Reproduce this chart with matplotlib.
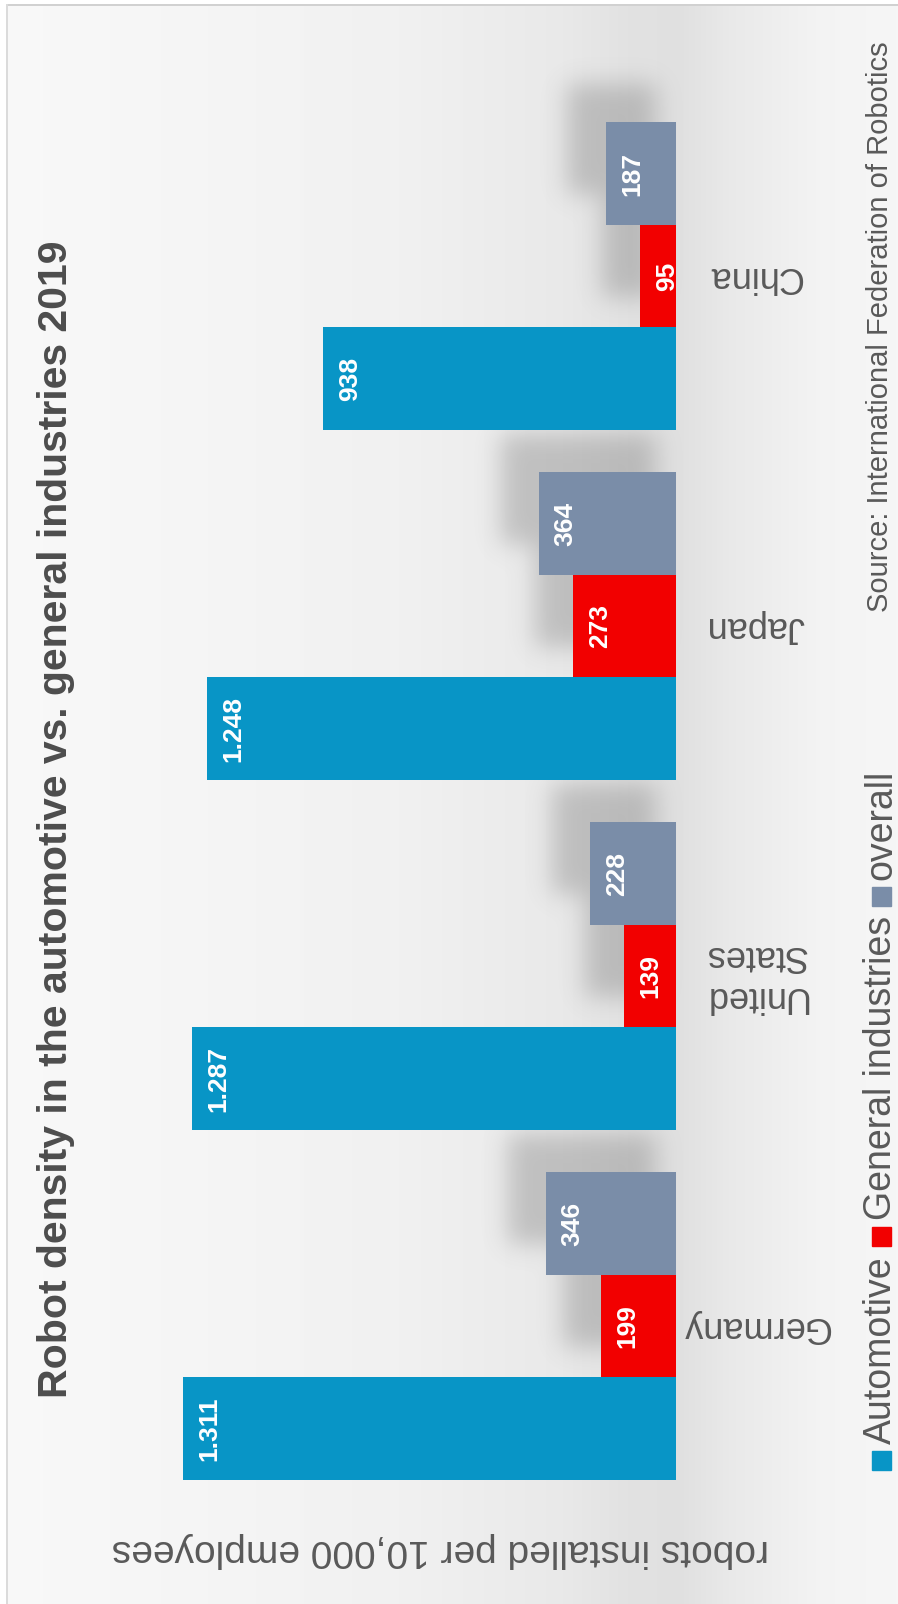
import numpy as np
import matplotlib.pyplot as plt
from matplotlib.patches import Rectangle

plt.rcParams['font.family'] = ['Liberation Sans', 'DejaVu Sans']

countries = ['Germany', 'United\nStates', 'Japan', 'China']
automotive = [1311, 1287, 1248, 938]
general = [199, 139, 273, 95]
overall = [346, 228, 364, 187]
series_names = ['Automotive', 'General industries', 'overall']
colors = ['#0895c6', '#f20000', '#7a8da8']

title = 'Robot density in the automotive vs. general industries 2019'
ylabel = 'robots installed per 10,000 employees'
source = 'Source: International Federation of Robotics'

W, H = 898, 1604
fig = plt.figure(figsize=(W / 100, H / 100), dpi=100)

# background with darker band behind the baseline
bg = fig.add_axes([0, 0, 1, 1], zorder=0)
bg.axis('off')
xs = np.arange(W)
shade = np.interp(xs, [0, 120, 400, 560, 630, 680, 730, 820, 898],
                  [0.975, 0.968, 0.945, 0.915, 0.885, 0.88, 0.915, 0.955, 0.965])
img = np.tile(shade, (H, 1))
img[:4, :] = 1.0
img[:, :6] = 1.0
img[4:6, 6:] = 0.82
img[4:, 6:8] = 0.86
bg.imshow(np.dstack([img] * 3), extent=[0, W, H, 0], aspect='auto', zorder=0)
bg.set_xlim(0, W)
bg.set_ylim(H, 0)

ax = fig.add_axes([0, 0, 1, 1], zorder=1)
ax.patch.set_alpha(0)
ax.set_xlim(1798, -590)
ax.set_ylim(-0.794, 3.789)
ax.axis('off')

y = np.arange(len(countries))
h = 0.293
series = [(automotive, colors[0], -h), (general, colors[1], 0.0), (overall, colors[2], h)]

# soft shadows cast by the short bars (up and to the left)
mask = np.zeros((H, W))
for vals, col, off in series[1:]:
    for v, c in zip(vals, y):
        (x0, y0), (x1, y1) = ax.transData.transform([(v, c + off - h / 2), (0, c + off + h / 2)])
        r0, r1 = int(H - y1 - 38), int(H - y0 - 30)
        c0, c1 = int(x0 - 38), int(x1 - 20)
        mask[max(r0, 0):r1, max(c0, 0):c1] = 1
k = np.exp(-0.5 * (np.arange(-40, 41) / 12.0) ** 2)
k /= k.sum()
mask = np.apply_along_axis(lambda r: np.convolve(r, k, mode='same'), 1, mask)
mask = np.apply_along_axis(lambda r: np.convolve(r, k, mode='same'), 0, mask)
shadow = np.zeros((H, W, 4))
shadow[..., :3] = 0.4
shadow[..., 3] = mask * 0.32
bg.imshow(shadow, extent=[0, W, H, 0], aspect='auto', zorder=1)

for vals, col, off in series:
    ax.barh(y + off, vals, height=h, color=col, linewidth=0)
    for v, c in zip(vals, y):
        ax.annotate(f'{v:,}'.replace(',', '.'), (v, c + off), xytext=(19, 0),
                    textcoords='offset points', rotation=90, ha='center', va='center',
                    color='white', fontsize=19, fontweight='bold')

for name, c in zip(countries, y):
    ax.annotate(name, (0, c), xytext=(57, 0), textcoords='offset points',
                rotation=180, ha='center', va='center', fontsize=26,
                color='#595959', linespacing=1.2)

fig.text(56 / W, 1 - 819 / H, title, rotation=90, ha='center', va='center',
         fontsize=29.5, fontweight='bold', color='#4d4d4d')
fig.text(440 / W, 1 - 1550 / H, ylabel, rotation=180, ha='center', va='center',
         fontsize=28, color='#595959')
fig.text(880 / W, 1 - 41 / H, source, rotation=90, ha='center', va='top',
         fontsize=21, color='#595959')

# legend, laid out bottom to top along the right edge
renderer = fig.canvas.get_renderer()
pos = 1470
sq = 19
for name, col in zip(series_names, colors):
    fig.patches.append(Rectangle((872 / W, 1 - pos / H), sq / W, sq / H,
                                 transform=fig.transFigure, color=col, figure=fig))
    pos -= sq + 7
    t = fig.text(881 / W, 1 - pos / H, name, rotation=90, ha='center', va='bottom',
                 fontsize=27, color='#595959')
    pos -= t.get_window_extent(renderer).height + 10

fig.savefig('out.png', dpi=100)
